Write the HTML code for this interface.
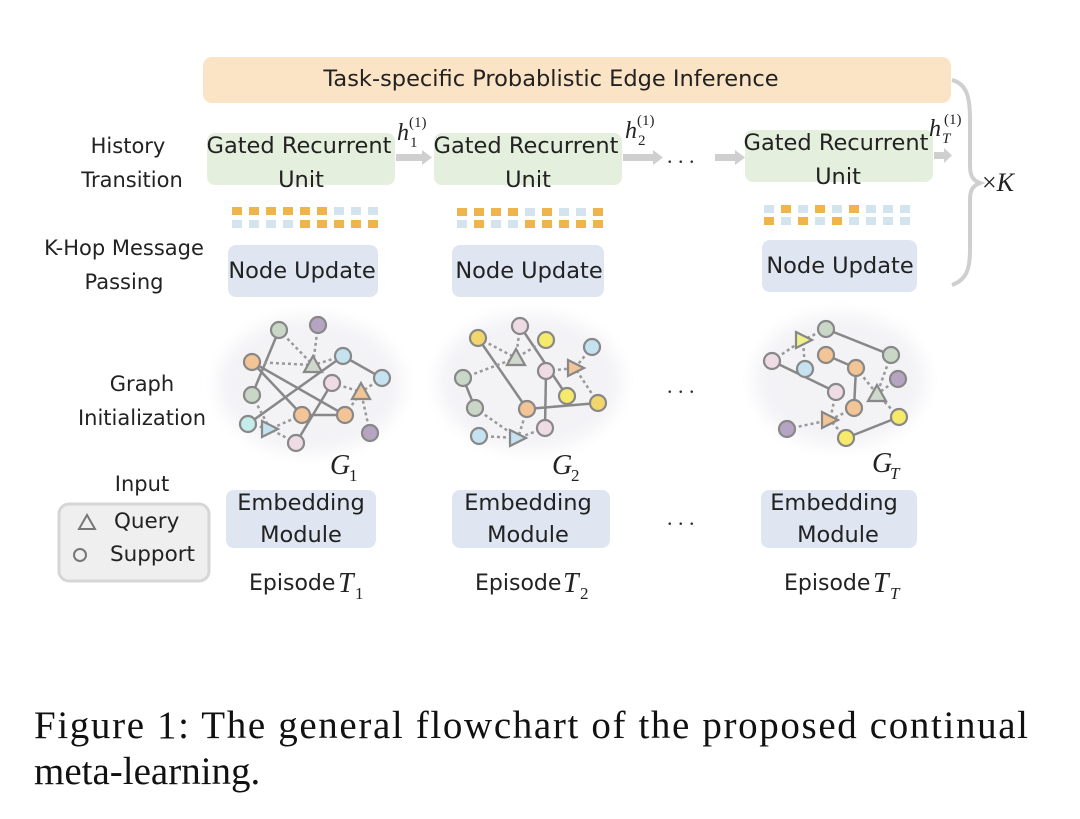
<!DOCTYPE html>
<html><head><meta charset="utf-8"><style>
html,body{margin:0;padding:0;background:#fff;}
svg{display:block;}
.t{font-family:"DejaVu Sans","Liberation Sans",sans-serif;fill:#222;}
.m{font-family:"Liberation Serif",serif;font-style:italic;fill:#222;}
.cap{font-family:"Liberation Serif",serif;fill:#111;font-size:39px;}
</style></head><body>
<svg width="1080" height="819" viewBox="0 0 1080 819" xmlns="http://www.w3.org/2000/svg">
<defs>
<filter id="bl"><feGaussianBlur stdDeviation="8"/></filter>
</defs>
<rect x="203" y="57" width="748" height="46" rx="9" fill="#fbe3c5"/>
<text class="t" x="551" y="86" font-size="22.5" text-anchor="middle">Task-specific Probablistic Edge Inference</text>

<g class="t" font-size="21" text-anchor="middle">
<text x="128" y="153">History</text><text x="132" y="187">Transition</text>
<text x="124" y="255">K-Hop Message</text><text x="124" y="289">Passing</text>
<text x="142" y="391">Graph</text><text x="142" y="425">Initialization</text>
<text x="142" y="491">Input</text>
</g>

<g fill="#e5efdd">
<rect x="207" y="133" width="188" height="52" rx="8"/>
<rect x="434" y="133" width="188" height="52" rx="8"/>
<rect x="745" y="130" width="188" height="52" rx="8"/>
</g>
<g class="t" font-size="22.5" text-anchor="middle">
<text x="299" y="153">Gated Recurrent</text><text x="301" y="187">Unit</text>
<text x="526" y="153">Gated Recurrent</text><text x="528" y="187">Unit</text>
<text x="836" y="150">Gated Recurrent</text><text x="838" y="184">Unit</text>
</g>
<g fill="#cfcfcf">
<rect x="396" y="154" width="28" height="7"/><polygon points="422,150 432,157.5 422,165"/>
<rect x="623" y="154" width="32" height="7"/><polygon points="653,150 663,157.5 653,165"/>
<rect x="715" y="154" width="22" height="7"/><polygon points="735,150 745,157.5 735,165"/>
<rect x="934" y="152" width="12" height="7"/><polygon points="944,148 952,155.5 944,163"/>
</g>
<g font-size="22" fill="#333"><text x="667" y="163">. . .</text></g>
<g class="m" font-size="24">
<text x="397" y="140">h</text><text x="410" y="147" font-size="15" font-style="normal">1</text><text x="409" y="127" font-size="15" font-style="normal">(1)</text>
<text x="625" y="138">h</text><text x="638" y="145" font-size="15" font-style="normal">2</text><text x="637" y="125" font-size="15" font-style="normal">(1)</text>
<text x="929" y="136">h</text><text x="942" y="143" font-size="15">T</text><text x="944" y="124" font-size="15" font-style="normal">(1)</text>
</g>

<g>
<g fill="#f0b44c">
<rect x="232" y="207" width="10" height="8"/><rect x="249" y="207" width="10" height="8"/><rect x="266" y="207" width="10" height="8"/><rect x="283" y="207" width="10" height="8"/><rect x="300" y="207" width="10" height="8"/><rect x="317" y="207" width="10" height="8"/>
<rect x="300" y="220" width="10" height="8"/><rect x="317" y="220" width="10" height="8"/><rect x="334" y="220" width="10" height="8"/><rect x="351" y="220" width="10" height="8"/><rect x="368" y="220" width="10" height="8"/>
</g>
<g fill="#d3e4ee">
<rect x="334" y="207" width="10" height="8"/><rect x="351" y="207" width="10" height="8"/><rect x="368" y="207" width="10" height="8"/>
<rect x="232" y="220" width="10" height="8"/><rect x="249" y="220" width="10" height="8"/><rect x="266" y="220" width="10" height="8"/><rect x="283" y="220" width="10" height="8"/>
</g>
<g fill="#f0b44c">
<rect x="457" y="208" width="10" height="8"/><rect x="474" y="208" width="10" height="8"/><rect x="491" y="208" width="10" height="8"/><rect x="508" y="208" width="10" height="8"/><rect x="542" y="208" width="10" height="8"/><rect x="593" y="208" width="10" height="8"/>
<rect x="474" y="220" width="10" height="8"/><rect x="525" y="220" width="10" height="8"/><rect x="542" y="220" width="10" height="8"/><rect x="559" y="220" width="10" height="8"/><rect x="576" y="220" width="10" height="8"/><rect x="593" y="220" width="10" height="8"/>
</g>
<g fill="#d3e4ee">
<rect x="525" y="208" width="10" height="8"/><rect x="559" y="208" width="10" height="8"/><rect x="576" y="208" width="10" height="8"/>
<rect x="457" y="220" width="10" height="8"/><rect x="491" y="220" width="10" height="8"/><rect x="508" y="220" width="10" height="8"/>
</g>
<g fill="#f0b44c">
<rect x="781" y="205" width="10" height="8"/><rect x="815" y="205" width="10" height="8"/><rect x="849" y="205" width="10" height="8"/>
<rect x="764" y="217" width="10" height="8"/><rect x="798" y="217" width="10" height="8"/><rect x="832" y="217" width="10" height="8"/>
</g>
<g fill="#d3e4ee">
<rect x="764" y="205" width="10" height="8"/><rect x="798" y="205" width="10" height="8"/><rect x="832" y="205" width="10" height="8"/><rect x="866" y="205" width="10" height="8"/><rect x="883" y="205" width="10" height="8"/><rect x="900" y="205" width="10" height="8"/>
<rect x="781" y="217" width="10" height="8"/><rect x="815" y="217" width="10" height="8"/><rect x="849" y="217" width="10" height="8"/><rect x="866" y="217" width="10" height="8"/><rect x="883" y="217" width="10" height="8"/><rect x="900" y="217" width="10" height="8"/>
</g>
</g>

<g fill="#dfe6f1">
<rect x="228" y="245" width="150" height="52" rx="8"/>
<rect x="452" y="245" width="152" height="52" rx="8"/>
<rect x="762" y="240" width="155" height="52" rx="8"/>
</g>
<g class="t" font-size="22.5" text-anchor="middle">
<text x="302" y="278">Node Update</text><text x="529" y="278">Node Update</text><text x="840" y="273">Node Update</text>
</g>

<path d="M952,80 C968,84 970,100 970,120 L970,165 C970,175 972,180 980,183 C972,186 970,191 970,200 L970,250 C970,270 966,280 952,285" fill="none" stroke="#cfcfcf" stroke-width="4"/>
<text class="m" x="982" y="191" font-size="26"><tspan font-style="normal">×</tspan>K</text>

<g fill="#f3f2f5" filter="url(#bl)">
<ellipse cx="310" cy="385" rx="92" ry="68"/>
<ellipse cx="530" cy="382" rx="92" ry="68"/>
<ellipse cx="840" cy="380" rx="86" ry="66"/>
</g>
<g stroke="#888" stroke-width="2.5" fill="none">
<line x1="279" y1="330" x2="252" y2="395"/><line x1="252" y1="362" x2="302" y2="415"/><line x1="252" y1="362" x2="345" y2="415"/>
<line x1="343" y1="356" x2="248" y2="424"/><line x1="343" y1="356" x2="382" y2="378"/><line x1="302" y1="415" x2="345" y2="415"/>
<line x1="332" y1="383" x2="296" y2="443"/>
<line x1="478" y1="338" x2="527" y2="409"/><line x1="520" y1="326" x2="567" y2="396"/><line x1="463" y1="378" x2="475" y2="408"/>
<line x1="527" y1="409" x2="598" y2="403"/><line x1="546" y1="371" x2="545" y2="428"/>
<line x1="826" y1="329" x2="891" y2="355"/><line x1="772" y1="361" x2="836" y2="392"/><line x1="826" y1="355" x2="856" y2="368"/>
<line x1="856" y1="368" x2="854" y2="408"/><line x1="899" y1="417" x2="846" y2="438"/>
</g>
<g stroke="#999" stroke-width="2.5" fill="none" stroke-dasharray="3,3">
<line x1="279" y1="330" x2="313" y2="365"/><line x1="318" y1="325" x2="313" y2="365"/><line x1="252" y1="362" x2="313" y2="365"/><line x1="343" y1="356" x2="313" y2="365"/>
<line x1="332" y1="383" x2="361" y2="392"/><line x1="382" y1="378" x2="361" y2="392"/><line x1="370" y1="433" x2="361" y2="392"/><line x1="345" y1="415" x2="361" y2="392"/>
<line x1="252" y1="395" x2="270" y2="429"/><line x1="248" y1="424" x2="270" y2="429"/><line x1="296" y1="443" x2="270" y2="429"/><line x1="302" y1="415" x2="270" y2="429"/>
<line x1="478" y1="338" x2="516" y2="358"/><line x1="520" y1="326" x2="516" y2="358"/><line x1="546" y1="340" x2="516" y2="358"/><line x1="463" y1="378" x2="516" y2="358"/>
<line x1="592" y1="347" x2="575" y2="368"/><line x1="546" y1="371" x2="575" y2="368"/><line x1="598" y1="403" x2="575" y2="368"/>
<line x1="475" y1="408" x2="518" y2="438"/><line x1="479" y1="436" x2="518" y2="438"/><line x1="527" y1="409" x2="518" y2="438"/><line x1="545" y1="428" x2="518" y2="438"/>
<line x1="772" y1="361" x2="803" y2="340"/><line x1="826" y1="329" x2="803" y2="340"/><line x1="805" y1="369" x2="803" y2="340"/>
<line x1="891" y1="355" x2="877" y2="394"/><line x1="898" y1="379" x2="877" y2="394"/><line x1="856" y1="368" x2="877" y2="394"/><line x1="899" y1="417" x2="877" y2="394"/>
<line x1="787" y1="429" x2="830" y2="420"/><line x1="836" y1="392" x2="830" y2="420"/><line x1="854" y1="408" x2="830" y2="420"/><line x1="846" y1="438" x2="830" y2="420"/>
</g>
<g stroke="#888" stroke-width="2.2">
<circle cx="279" cy="330" r="8" fill="#c9d8c6"/><circle cx="318" cy="325" r="8" fill="#b6a5c2"/><circle cx="252" cy="362" r="8" fill="#f3c495"/>
<circle cx="343" cy="356" r="8" fill="#c5e2f0"/><circle cx="252" cy="395" r="8" fill="#c9d8c6"/><circle cx="382" cy="378" r="8" fill="#c5e2f0"/>
<circle cx="332" cy="383" r="8" fill="#eedbe3"/><circle cx="248" cy="424" r="8" fill="#c3ecea"/><circle cx="302" cy="415" r="8" fill="#f3c495"/>
<circle cx="345" cy="415" r="8" fill="#f3c495"/><circle cx="296" cy="443" r="8" fill="#eedbe3"/><circle cx="370" cy="433" r="8" fill="#b6a5c2"/>
<polygon points="313,356 322,372 304,372" fill="#cfd8cc"/><polygon points="361,383 370,399 352,399" fill="#f3c495"/><polygon points="262,421 278,429 262,437" fill="#c5e2f0"/>
<circle cx="478" cy="338" r="8" fill="#f2d66a"/><circle cx="520" cy="326" r="8" fill="#eedbe3"/><circle cx="546" cy="340" r="8" fill="#f5ea6a"/>
<circle cx="592" cy="347" r="8" fill="#c5e2f0"/><circle cx="546" cy="371" r="8" fill="#eedbe3"/><circle cx="463" cy="378" r="8" fill="#c9d8c6"/>
<circle cx="567" cy="396" r="8" fill="#f5ea6a"/><circle cx="598" cy="403" r="8" fill="#f2d66a"/><circle cx="475" cy="408" r="8" fill="#c9d8c6"/>
<circle cx="527" cy="409" r="8" fill="#f3c495"/><circle cx="545" cy="428" r="8" fill="#eedbe3"/><circle cx="479" cy="436" r="8" fill="#c5e2f0"/>
<polygon points="516,349 525,365 507,365" fill="#cfd8cc"/><polygon points="568,360 584,368 568,376" fill="#f3c495"/><polygon points="510,430 526,438 510,446" fill="#c5e2f0"/>
<circle cx="826" cy="329" r="8" fill="#c9d8c6"/><circle cx="772" cy="361" r="8" fill="#eedbe3"/><circle cx="826" cy="355" r="8" fill="#f3c495"/>
<circle cx="805" cy="369" r="8" fill="#c5e2f0"/><circle cx="856" cy="368" r="8" fill="#f3c495"/><circle cx="891" cy="355" r="8" fill="#c9d8c6"/>
<circle cx="898" cy="379" r="8" fill="#b6a5c2"/><circle cx="836" cy="392" r="8" fill="#eedbe3"/><circle cx="854" cy="408" r="8" fill="#f3c495"/>
<circle cx="899" cy="417" r="8" fill="#f5ea6a"/><circle cx="787" cy="429" r="8" fill="#b6a5c2"/><circle cx="846" cy="438" r="8" fill="#f5ea6a"/>
<polygon points="796,332 812,340 796,348" fill="#eef08a"/><polygon points="877,385 886,401 868,401" fill="#cfd8cc"/><polygon points="822,412 838,420 822,428" fill="#f3c495"/>
</g>
<text x="667" y="393" font-size="22" fill="#333">. . .</text>
<g class="m" font-size="28">
<text x="330" y="474">G</text><text x="349" y="481" font-size="17" font-style="normal">1</text>
<text x="552" y="474">G</text><text x="571" y="481" font-size="17" font-style="normal">2</text>
<text x="872" y="472">G</text><text x="890" y="479" font-size="17">T</text>
</g>

<rect x="59" y="504" width="150" height="77" rx="10" fill="#efefef" stroke="#d6d6d6" stroke-width="3"/>
<polygon points="79,529 87,515 95,529" fill="none" stroke="#777" stroke-width="2"/>
<circle cx="80" cy="555" r="6" fill="none" stroke="#777" stroke-width="2"/>
<g class="t" font-size="21.5"><text x="114" y="528">Query</text><text x="110" y="561">Support</text></g>

<g fill="#dfe6f1">
<rect x="226" y="490" width="150" height="58" rx="8"/>
<rect x="452" y="490" width="158" height="58" rx="8"/>
<rect x="761" y="490" width="156" height="58" rx="8"/>
</g>
<g class="t" font-size="22.5" text-anchor="middle">
<text x="301" y="510">Embedding</text><text x="301" y="542">Module</text>
<text x="528" y="510">Embedding</text><text x="528" y="542">Module</text>
<text x="834" y="510">Embedding</text><text x="838" y="542">Module</text>
</g>
<text x="667" y="525" font-size="22" fill="#333">. . .</text>
<g class="t" font-size="22">
<text x="249" y="590">Episode</text><text x="475" y="590">Episode</text><text x="784" y="590">Episode</text>
</g>
<g class="m" font-size="28">
<text x="338" y="592">T</text><text x="355" y="599" font-size="17" font-style="normal">1</text>
<text x="563" y="592">T</text><text x="580" y="599" font-size="17" font-style="normal">2</text>
<text x="873" y="592">T</text><text x="890" y="599" font-size="17">T</text>
</g>

<text class="cap" x="34" y="738" textLength="994" lengthAdjust="spacing">Figure 1: The general flowchart of the proposed continual</text>
<text class="cap" x="34" y="784">meta-learning.</text>
</svg>
</body></html>
